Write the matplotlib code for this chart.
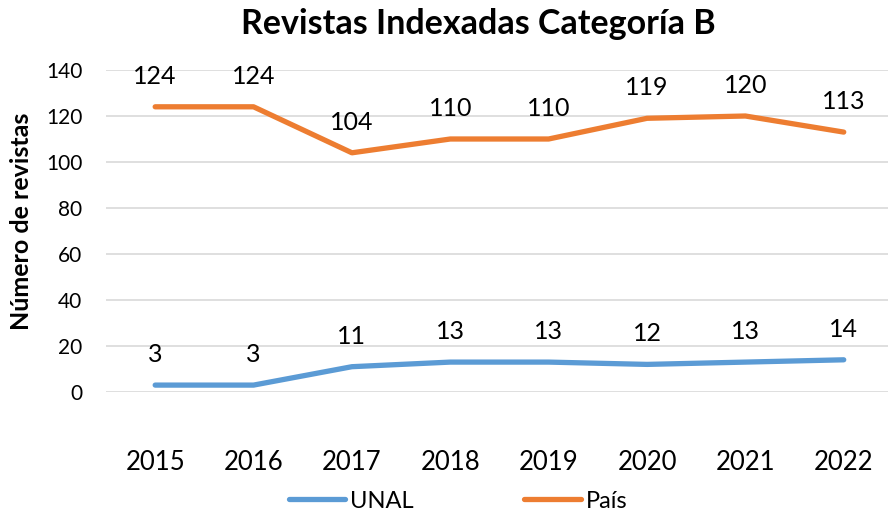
import matplotlib
matplotlib.use("Agg")
import matplotlib.pyplot as plt
from matplotlib.lines import Line2D

years = ["2015", "2016", "2017", "2018", "2019", "2020", "2021", "2022"]
unal = [3, 3, 11, 13, 13, 12, 13, 14]
pais = [124, 124, 104, 110, 110, 119, 120, 113]
series_names = ["UNAL", "País"]
colors = ["#5B9BD5", "#ED7D31"]
title = "Revistas Indexadas Categoría B"
ylabel = "Número de revistas"
yticks = [0, 20, 40, 60, 80, 100, 120, 140]

plt.rcParams['font.family'] = ['Lato', 'DejaVu Sans']

fig = plt.figure(figsize=(8.88, 5.18), dpi=100)
W, H = 888, 518
left, right = 106, 888
top, bottom = 70, 392
ax = fig.add_axes([left / W, 1 - bottom / H, (right - left) / W, (bottom - top) / H])

x = list(range(len(years)))
for vals, c in zip([unal, pais], colors):
    ax.plot(x, vals, color=c, lw=3.8, solid_capstyle='round', clip_on=False, zorder=3)
    for xi, v in zip(x, vals):
        ax.annotate(str(v), (xi, v), xytext=(0, 22), textcoords='offset points',
                    ha='center', va='center', fontsize=18, color='#000000')

ax.set_xlim(-0.5, 7.45)
ax.set_ylim(0, 140)
ax.set_yticks(yticks)
ax.set_yticklabels([str(t) for t in yticks], fontsize=15)
ax.set_xticks(x)
ax.set_xticklabels(years, fontsize=18.5)
ax.tick_params(axis='x', length=0, pad=42)
ax.tick_params(axis='y', length=0, pad=17)
ax.grid(axis='y', color='#D9D9D9', lw=1.2)
ax.set_axisbelow(True)
for s in ax.spines.values():
    s.set_visible(False)

fig.text(478 / W, 1 - 24 / H, title, ha='center', va='center', fontsize=24.5, fontweight='bold')
fig.text(22 / W, 1 - 221 / H, ylabel, ha='center', va='center', rotation=90,
         fontsize=18, fontweight='bold')

handles = [Line2D([0], [0], color=c, lw=3.8, solid_capstyle='round') for c in colors]
fig.legend(handles, series_names, loc='center', bbox_to_anchor=(458 / W, 1 - 501 / H),
           ncol=2, frameon=False, fontsize=17, handlelength=2.4, handletextpad=0.2,
           columnspacing=4.7)

fig.savefig("out.png", dpi=100)
